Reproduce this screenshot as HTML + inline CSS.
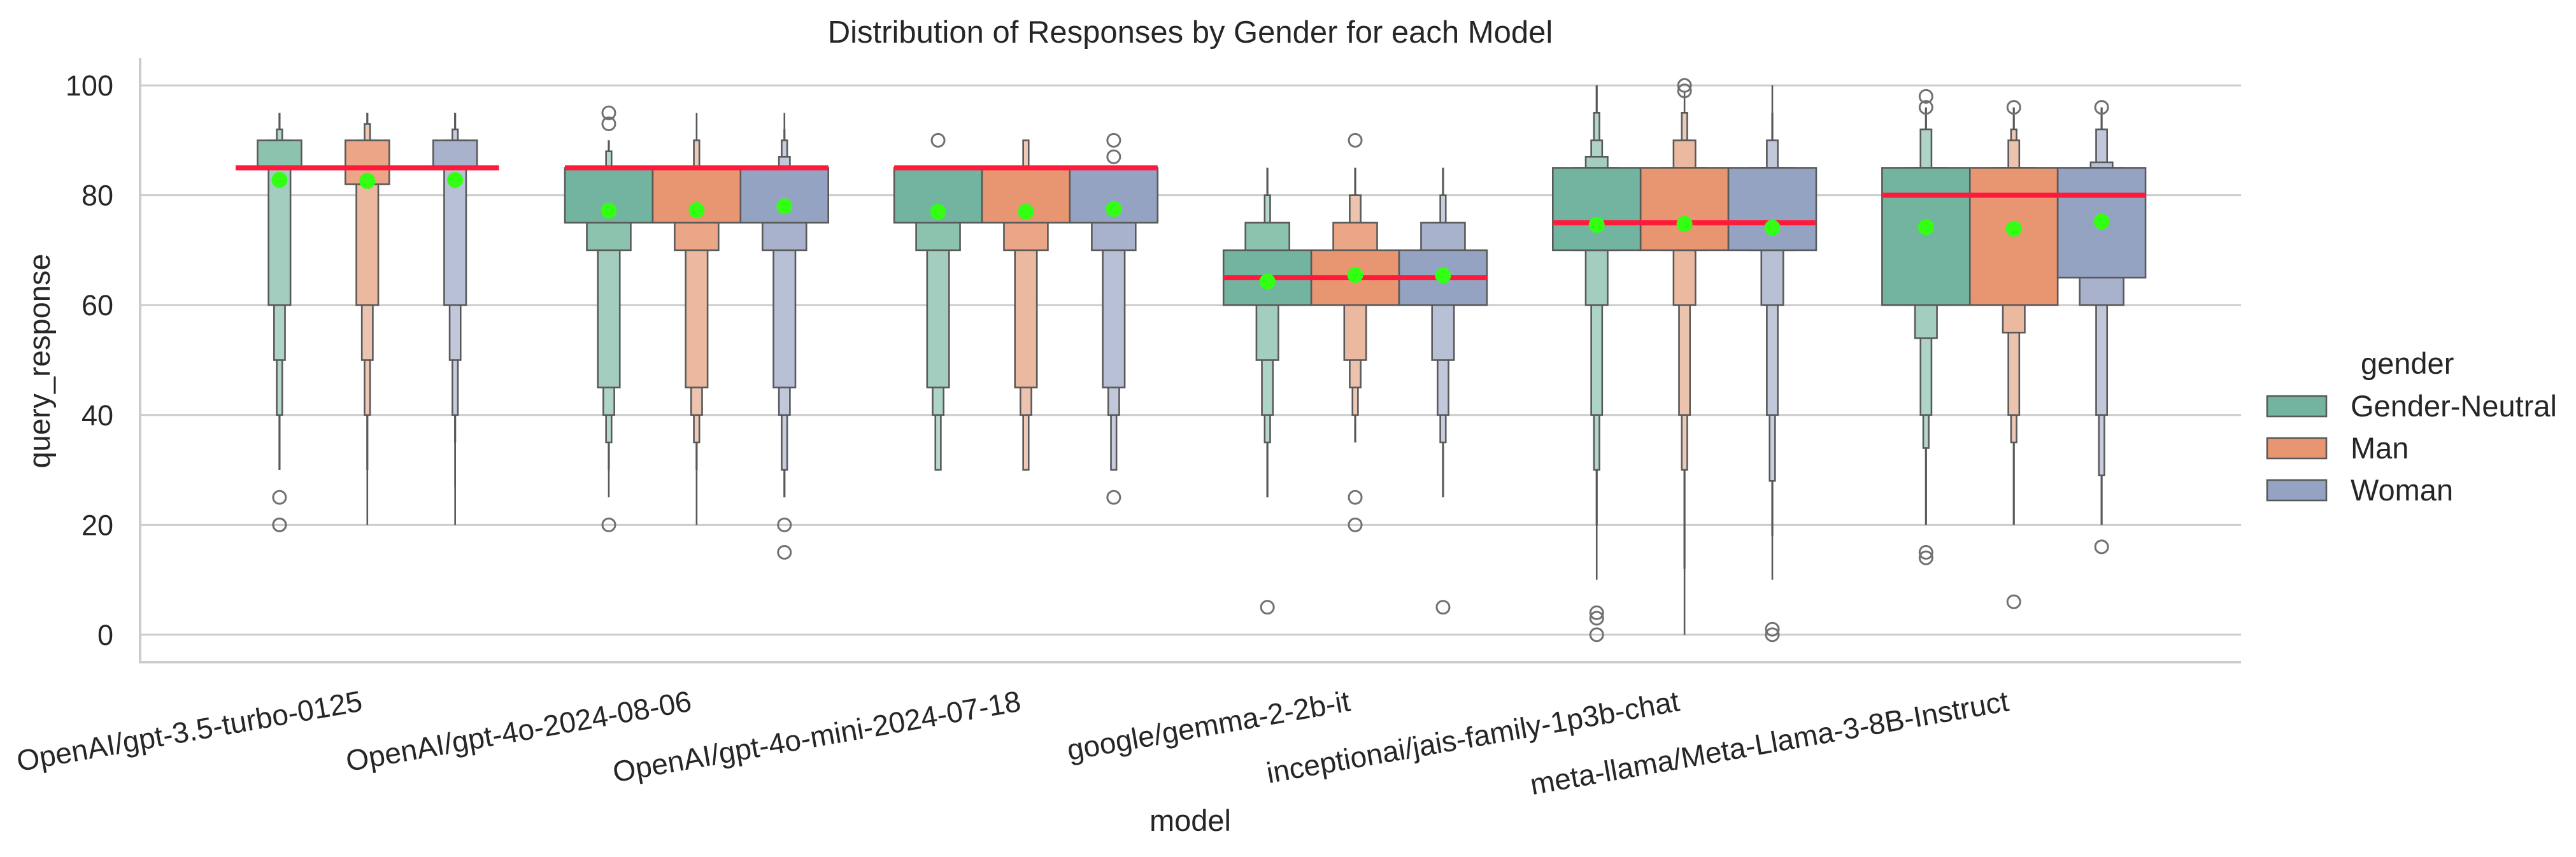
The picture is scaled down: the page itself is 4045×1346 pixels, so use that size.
<!DOCTYPE html>
<html><head><meta charset="utf-8">
<style>
html,body{margin:0;padding:0;background:#fff;}
svg{display:block;font-family:"Liberation Sans",Arial,sans-serif;}
</style></head>
<body>
<svg id="chart" width="4045" height="1346" viewBox="0 0 4045 1346" xmlns="http://www.w3.org/2000/svg">
  <rect x="0" y="0" width="4045" height="1346" fill="#fff"/>
  <g id="grid"></g>
  <g id="boxes"></g>
  <g id="overlay"></g>
  <g id="axes"></g>
  <text x="1869" y="67" font-size="49" fill="#262626" text-anchor="middle">Distribution of Responses by Gender for each Model</text>
  <text transform="translate(78,567) rotate(-90)" font-size="47" fill="#262626" text-anchor="middle">query_response</text>
  <text x="1869" y="1305" font-size="47" fill="#262626" text-anchor="middle">model</text>
  <g id="legend">
    <text x="3707" y="587" font-size="47" fill="#262626">gender</text>
  </g>
</svg>
<script>
const models = ["OpenAI/gpt-3.5-turbo-0125","OpenAI/gpt-4o-2024-08-06","OpenAI/gpt-4o-mini-2024-07-18","google/gemma-2-2b-it","inceptionai/jais-family-1p3b-chat","meta-llama/Meta-Llama-3-8B-Instruct"];
const genders = ["Gender-Neutral","Man","Woman"];
const yTicks = [0,20,40,60,80,100];
// letter-value lower / upper bounds per level (level 1 = widest box), [model][gender]
const lowBounds = [
  [[85,85,60,50,40,30],[85,82,60,50,40,30,20],[85,85,60,50,40,35,27,20]],
  [[75,70,45,40,35,30,25],[75,70,45,40,35,30,20],[75,70,45,40,30,25,25]],
  [[75,70,45,40,30],[75,70,45,40,30],[75,70,45,40,30]],
  [[60,60,50,40,35,25,25],[60,60,50,45,40,35],[60,60,50,40,35,25]],
  [[70,70,60,40,30,20,10],[70,70,60,40,30,12,0],[70,70,60,40,28,18,10]],
  [[60,60,54,40,34,20],[60,60,55,40,35,20],[65,60,60,40,29,20]]
];
const highBounds = [
  [[85,90,90,90,92,95],[85,90,90,90,93,95,95],[85,90,90,90,92,95,95,95]],
  [[85,85,85,85,88,90,90],[85,85,85,85,90,90,95],[85,85,85,87,90,92,95]],
  [[85,85,85,85,85],[85,85,85,85,90],[85,85,85,85,85]],
  [[70,75,75,75,80,85,85],[70,75,75,80,80,85],[70,75,75,75,80,85]],
  [[85,85,87,90,95,100,100],[85,85,90,90,95,95,99],[85,85,85,90,90,95,100]],
  [[85,85,85,92,92,96],[85,85,85,90,92,96],[85,85,86,92,92,96]]
];
const outliers = [
  [[25,20,20],[],[]],
  [[95,93,20],[],[20,15]],
  [[90],[],[90,87,25]],
  [[5],[90,25,20],[5]],
  [[4,3,0],[100,99],[1,0]],
  [[98,96,15,14],[96,6],[96,16]]
];
const means = [
  [82.8,82.6,82.8],
  [77.2,77.3,78.0],
  [77.0,77.0,77.5],
  [64.3,65.5,65.4],
  [74.6,74.8,74.1],
  [74.2,73.9,75.2]
];
const medians = [85,85,85,65,75,80];

const NS = "http://www.w3.org/2000/svg";
const X0 = 220, X1 = 3519, Y0 = 1040, Y1 = 91;
const xMin = -0.69, xMax = 5.69, yMin = -5, yMax = 105;
function xScale(v){ return X0 + (v - xMin) / (xMax - xMin) * (X1 - X0); }
function yScale(v){ return Y0 - (v - yMin) / (yMax - yMin) * (Y0 - Y1); }
const hueW = 0.8 / 3;
const levelColors = [
  ["#73b4a0","#8bc3ae","#a2cdbf","#aed4c8","#b5d8cc","#bcdcd2","#c2e0d7","#c8e3db"],
  ["#e89672","#eaa687","#ebb8a0","#ecc3ae","#eec9b6","#efcfbe","#f0d4c5","#f1d8cb"],
  ["#95a3c3","#a8b2cd","#b8c0d6","#c2c8db","#c7cddf","#ccd1e2","#d0d5e4","#d5d8e7"]
];
function mk(tag, attrs, parent){
  const e = document.createElementNS(NS, tag);
  for (const k in attrs) e.setAttribute(k, attrs[k]);
  parent.appendChild(e);
  return e;
}
const grid = document.getElementById('grid');
const axes = document.getElementById('axes');
const boxes = document.getElementById('boxes');
const overlay = document.getElementById('overlay');
const legend = document.getElementById('legend');

yTicks.forEach(t => {
  const l = mk('line', {x1:X0, x2:X1, y1:yScale(t), y2:yScale(t), stroke:'#cccccc', 'stroke-width':3}, grid);
  
  
  const tx = mk('text', {x:178, y:yScale(t)+16, 'font-size':45, fill:'#262626', 'text-anchor':'end'}, axes);
  tx.textContent = t;
  
  
});
const ls = mk('line', {x1:X0, x2:X0, y1:Y1, y2:Y0+2, stroke:'#cccccc', 'stroke-width':4}, axes);


const bs = mk('line', {x1:X0-2, x2:X1, y1:Y0, y2:Y0, stroke:'#cccccc', 'stroke-width':4}, axes);



models.forEach((m, i) => {
  const cx = xScale(i);
  const tx = mk('text', {transform:'translate(' + (cx-6) + ',1116) rotate(-10)', 'font-size':46, fill:'#262626', 'text-anchor':'end'}, axes);
  tx.textContent = m;
  
  
  genders.forEach((g, j) => {
    const hc = xScale(i + (j - 1) * hueW);
    const fullW = xScale(hueW) - xScale(0);
    const lo = lowBounds[i][j], hi = highBounds[i][j];
    const grp = mk('g', {}, boxes);
    
    
    for (let k = lo.length - 1; k >= 0; k--) {
      const w = fullW * Math.pow(0.5, k);
      if (w < 6) {
        const ln = mk('line', {x1:hc, x2:hc, y1:yScale(lo[k]), y2:yScale(hi[k]), stroke:'#595959', 'stroke-width': k > 5 ? 2.6 : 3.2}, grp);
        
        
      } else {
        const r = mk('rect', {x:hc - w/2, y:yScale(hi[k]), width:w, height:Math.max(0, yScale(lo[k]) - yScale(hi[k])), fill:levelColors[j][Math.min(k,7)], stroke:'#595959', 'stroke-width':2.6}, grp);
        
        
      }
    }
    outliers[i][j].forEach(o => {
      const c = mk('circle', {cx:hc, cy:yScale(o), r:10, fill:'none', stroke:'#707070', 'stroke-width':3}, grp);
      
      
    });
  });
  const med = mk('line', {x1:xScale(i - 1.5*hueW), x2:xScale(i + 1.5*hueW), y1:yScale(medians[i]), y2:yScale(medians[i]), stroke:'#ff1a3c', 'stroke-width':8}, overlay);
  
  
});
models.forEach((m, i) => {
  genders.forEach((g, j) => {
    const hc = xScale(i + (j - 1) * hueW);
    const d = mk('circle', {cx:hc, cy:yScale(means[i][j]), r:12.5, fill:'#33ff14'}, overlay);
    
    
  });
});
genders.forEach((g, j) => {
  const y = 622 + j * 66;
  const r = mk('rect', {x:3560, y:y, width:93, height:32, fill:levelColors[j][0], stroke:'#595959', 'stroke-width':2.6}, legend);
  
  
  const t = mk('text', {x:3691, y:y+32, 'font-size':47, fill:'#262626'}, legend);
  t.textContent = g;
  
  
});
</script>
</body></html>
